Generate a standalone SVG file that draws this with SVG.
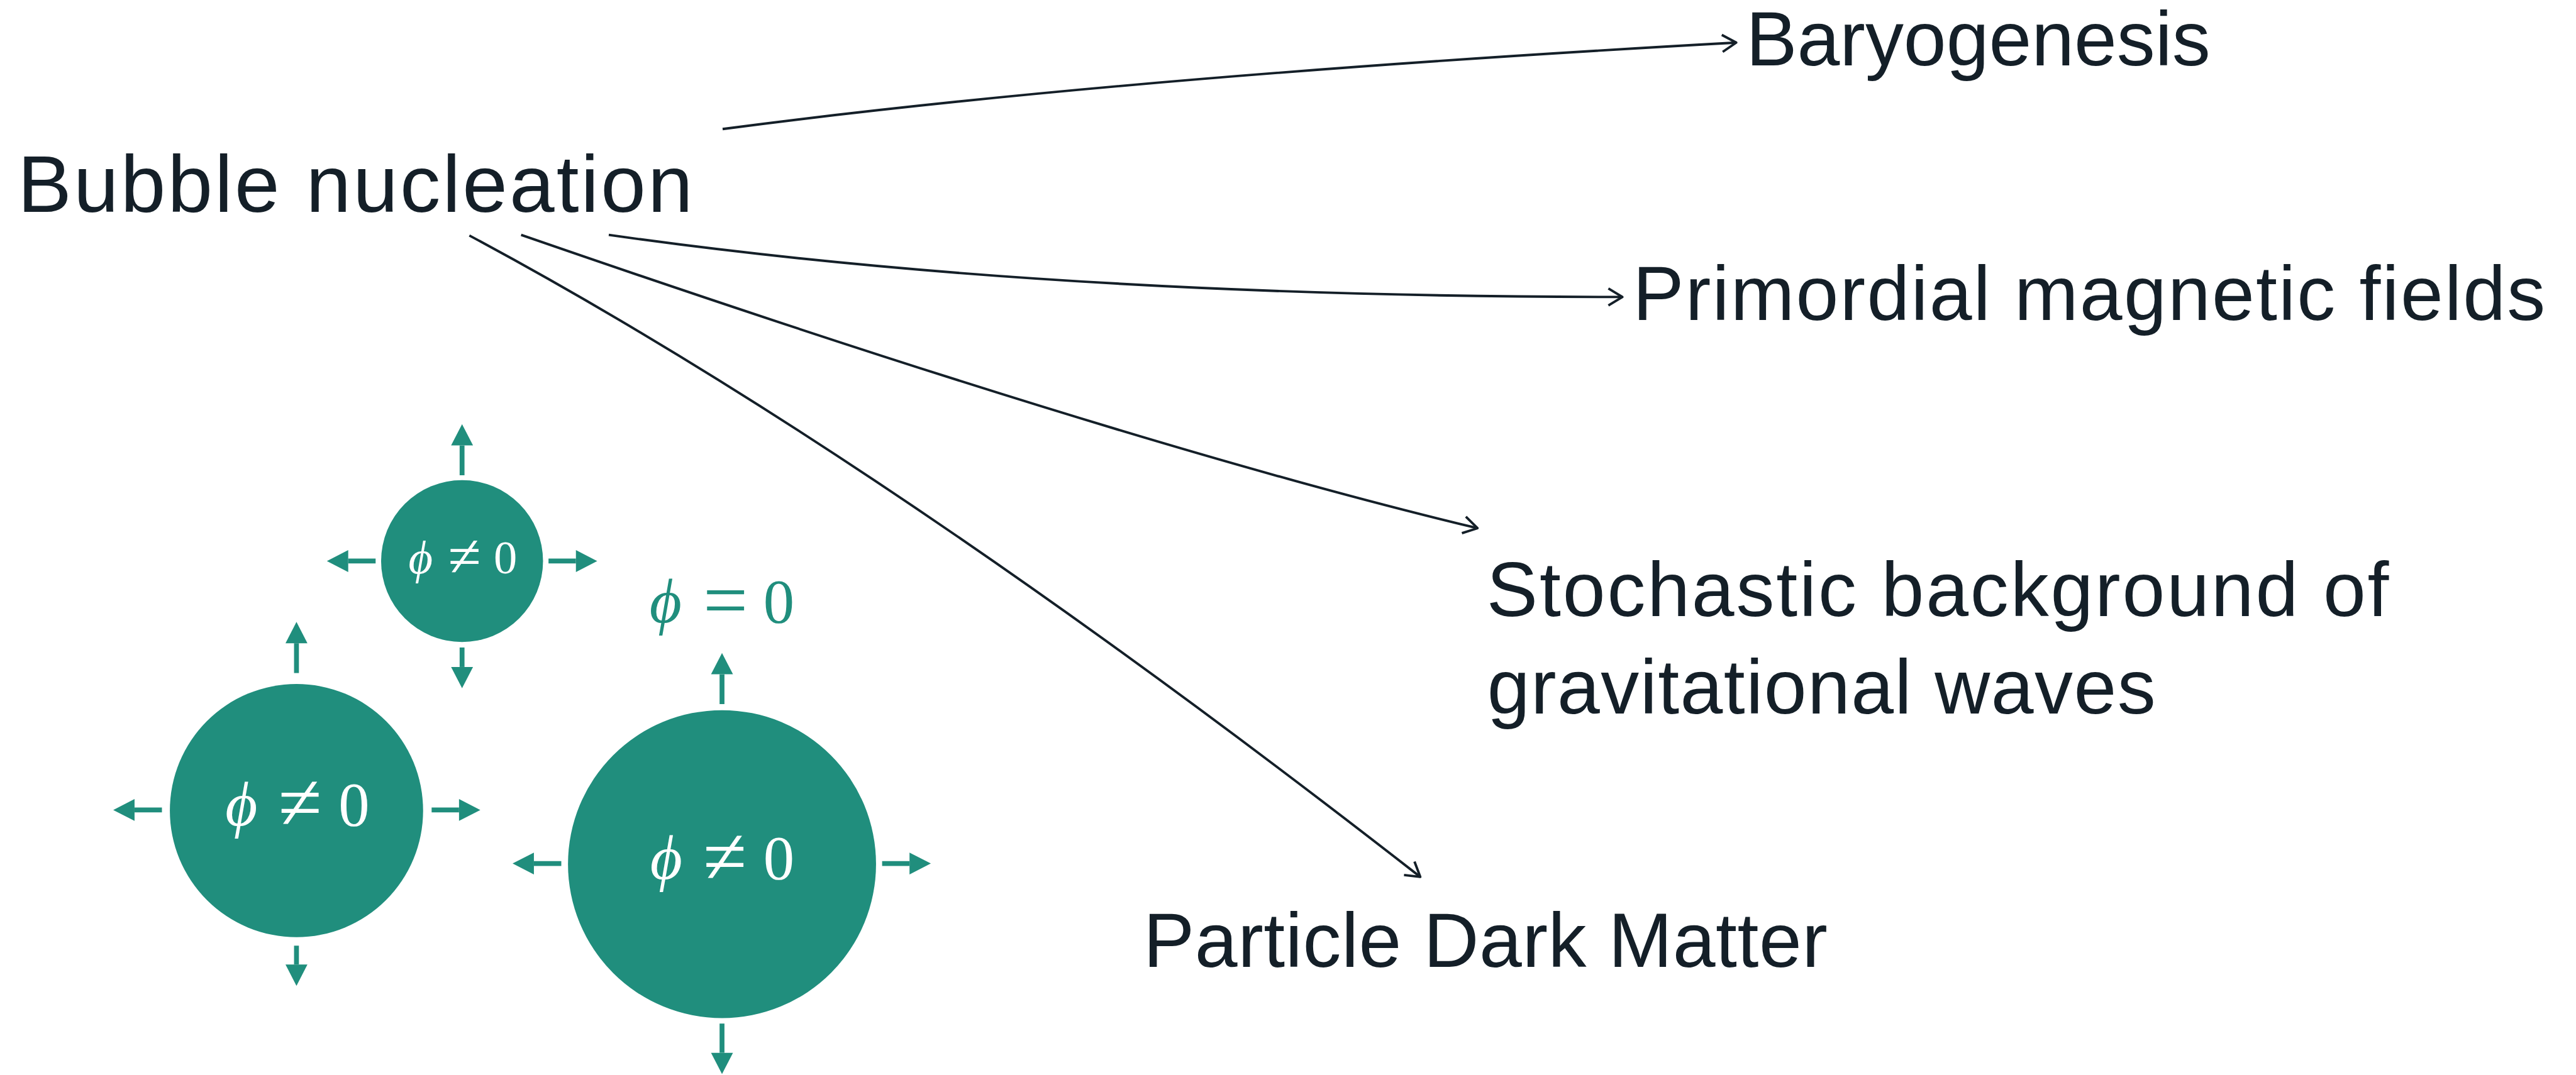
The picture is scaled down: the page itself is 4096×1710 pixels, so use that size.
<svg xmlns="http://www.w3.org/2000/svg" width="4096" height="1710" viewBox="0 0 4096 1710">
<style>
.lbl{font-family:"Liberation Sans","Arial",sans-serif;font-size:126px;fill:#141F28;}
.big{font-size:133px;}
.math{font-family:"Liberation Serif","DejaVu Serif",serif;fill:#FFFFFF;}
.mathT{font-family:"Liberation Serif","DejaVu Serif",serif;fill:#208E7D;}
.phi{font-style:italic;}
.rel{font-size:128%;}
.bub{fill:#208E7D;}
.gro{stroke:#208E7D;stroke-width:8;fill:none;marker-end:url(#tri);}
.con{stroke:#141F28;stroke-width:4;fill:none;marker-end:url(#chev);}
</style>
<defs>
<marker id="tri" markerUnits="userSpaceOnUse" markerWidth="40" markerHeight="40" refX="0" refY="0" orient="auto" overflow="visible" viewBox="-20 -20 40 40">
<path d="M0,-18 L35,0 L0,18 Z" fill="#208E7D"/>
</marker>
<marker id="chev" markerUnits="userSpaceOnUse" markerWidth="40" markerHeight="40" refX="0" refY="0" orient="auto" overflow="visible" viewBox="-20 -20 40 40">
<path d="M-23,-14 L0,0 L-23,14" fill="none" stroke="#141F28" stroke-width="4" stroke-linecap="butt" stroke-linejoin="round"/>
</marker>
</defs>
<rect x="0" y="0" width="4096" height="1710" fill="#FFFFFF"/>
<g transform="scale(0.968)">
<g id="connectors">
<path class="con" d="M1187,212 Q1840,126 2852,70"/>
<path class="con" d="M1000,386 Q1718,488 2665,488"/>
<path class="con" d="M856,386 Q1847,729 2427,868"/>
<path class="con" d="M771,387 Q1445,748 2333,1441"/>
</g>
<g id="node-bubble-nucleation"><text class="lbl big" x="29" y="348" textLength="1109" lengthAdjust="spacing">Bubble nucleation</text></g>
<g id="node-baryogenesis"><text class="lbl" x="2868" y="107" textLength="763" lengthAdjust="spacing">Baryogenesis</text></g>
<g id="node-primordial"><text class="lbl" x="2682" y="526" textLength="1499" lengthAdjust="spacing">Primordial magnetic fields</text></g>
<g id="node-stochastic">
<text class="lbl" x="2442" y="1012" textLength="1482" lengthAdjust="spacing">Stochastic background of</text>
<text class="lbl" x="2443" y="1173" textLength="1098" lengthAdjust="spacing">gravitational waves</text>
</g>
<g id="node-dark-matter"><text class="lbl" x="1878" y="1589" textLength="1124" lengthAdjust="spacing">Particle Dark Matter</text></g>
<g id="bubble-small">
<circle class="bub" cx="759" cy="922" r="133"/>
<path class="gro" d="M759,781 V732"/>
<path class="gro" d="M617,922 H572"/>
<path class="gro" d="M901,922 H946"/>
<path class="gro" d="M759,1064 V1096"/>
<text class="math" y="942" font-size="77"><tspan class="phi" x="671">ϕ</tspan><tspan class="rel" x="736" dy="5">≠</tspan><tspan x="811" dy="-5">0</tspan></text>
</g>
<g id="bubble-medium">
<circle class="bub" cx="487" cy="1332" r="208"/>
<path class="gro" d="M487,1106 V1057"/>
<path class="gro" d="M266,1331 H221"/>
<path class="gro" d="M709,1331 H754"/>
<path class="gro" d="M487,1554 V1585"/>
<text class="math" y="1356" font-size="102"><tspan class="phi" x="370">ϕ</tspan><tspan class="rel" x="457" dy="7">≠</tspan><tspan x="556" dy="-7">0</tspan></text>
</g>
<g id="bubble-large">
<circle class="bub" cx="1186" cy="1420" r="253"/>
<path class="gro" d="M1186,1157 V1108"/>
<path class="gro" d="M922,1419 H877"/>
<path class="gro" d="M1449,1419 H1494"/>
<path class="gro" d="M1186,1682 V1730"/>
<text class="math" y="1444" font-size="102"><tspan class="phi" x="1068">ϕ</tspan><tspan class="rel" x="1155" dy="7">≠</tspan><tspan x="1254" dy="-7">0</tspan></text>
</g>
<g id="label-phi-zero">
<text class="mathT" y="1023" font-size="102"><tspan class="phi" x="1067">ϕ</tspan><tspan class="rel" x="1155" dy="7">=</tspan><tspan x="1254" dy="-7">0</tspan></text>
</g>
</g>
</svg>
